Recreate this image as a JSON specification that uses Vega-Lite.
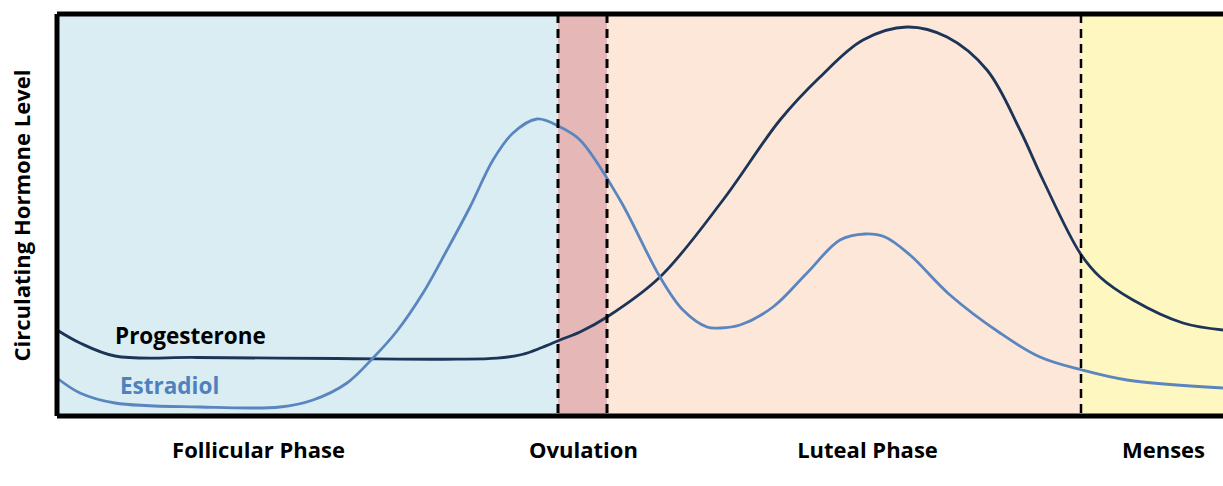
{
  "$schema": "https://vega.github.io/schema/vega-lite/v6.json",
  "autosize": {"type": "none"},
  "width": 1166,
  "height": 402,
  "padding": {"left": 57, "top": 14, "right": 0, "bottom": 70},
  "background": "white",
  "config": {"view": {"stroke": null}},
  "datasets": {
    "phases": [
      {"phase": "Follicular Phase", "start": 0, "end": 501},
      {"phase": "Ovulation", "start": 501, "end": 550},
      {"phase": "Luteal Phase", "start": 550, "end": 1024},
      {"phase": "Menses", "start": 1024, "end": 1166}
    ],
    "bounds": [{"b": 501, "w": 3}, {"b": 550, "w": 3}, {"b": 1024, "w": 2.5}],
    "hormones": [
      {"h": "Progesterone", "x": 0, "y": 86},
      {"h": "Progesterone", "x": 23, "y": 73},
      {"h": "Progesterone", "x": 58, "y": 60},
      {"h": "Progesterone", "x": 140, "y": 58.5},
      {"h": "Progesterone", "x": 280, "y": 57.5},
      {"h": "Progesterone", "x": 400, "y": 56.8},
      {"h": "Progesterone", "x": 440, "y": 57.8},
      {"h": "Progesterone", "x": 465, "y": 61.5},
      {"h": "Progesterone", "x": 485, "y": 68.5},
      {"h": "Progesterone", "x": 503, "y": 76},
      {"h": "Progesterone", "x": 523, "y": 84},
      {"h": "Progesterone", "x": 550, "y": 99},
      {"h": "Progesterone", "x": 603, "y": 139},
      {"h": "Progesterone", "x": 666, "y": 216},
      {"h": "Progesterone", "x": 723, "y": 296},
      {"h": "Progesterone", "x": 763, "y": 339},
      {"h": "Progesterone", "x": 806, "y": 376},
      {"h": "Progesterone", "x": 850, "y": 389},
      {"h": "Progesterone", "x": 890, "y": 379},
      {"h": "Progesterone", "x": 930, "y": 346},
      {"h": "Progesterone", "x": 963, "y": 286},
      {"h": "Progesterone", "x": 986, "y": 236},
      {"h": "Progesterone", "x": 1023, "y": 163},
      {"h": "Progesterone", "x": 1043, "y": 139},
      {"h": "Progesterone", "x": 1076, "y": 116},
      {"h": "Progesterone", "x": 1126, "y": 93},
      {"h": "Progesterone", "x": 1166, "y": 86},
      {"h": "Estradiol", "x": 0, "y": 38},
      {"h": "Estradiol", "x": 23, "y": 23},
      {"h": "Estradiol", "x": 58, "y": 13},
      {"h": "Estradiol", "x": 143, "y": 9},
      {"h": "Estradiol", "x": 223, "y": 9},
      {"h": "Estradiol", "x": 256, "y": 16},
      {"h": "Estradiol", "x": 290, "y": 33},
      {"h": "Estradiol", "x": 316, "y": 58},
      {"h": "Estradiol", "x": 340, "y": 85},
      {"h": "Estradiol", "x": 366, "y": 123},
      {"h": "Estradiol", "x": 390, "y": 166},
      {"h": "Estradiol", "x": 413, "y": 209},
      {"h": "Estradiol", "x": 436, "y": 256},
      {"h": "Estradiol", "x": 456, "y": 283},
      {"h": "Estradiol", "x": 480, "y": 297},
      {"h": "Estradiol", "x": 503, "y": 289},
      {"h": "Estradiol", "x": 523, "y": 276},
      {"h": "Estradiol", "x": 563, "y": 216},
      {"h": "Estradiol", "x": 603, "y": 139},
      {"h": "Estradiol", "x": 626, "y": 106},
      {"h": "Estradiol", "x": 650, "y": 89},
      {"h": "Estradiol", "x": 663, "y": 88},
      {"h": "Estradiol", "x": 683, "y": 91},
      {"h": "Estradiol", "x": 716, "y": 109},
      {"h": "Estradiol", "x": 750, "y": 143},
      {"h": "Estradiol", "x": 783, "y": 176},
      {"h": "Estradiol", "x": 808, "y": 182},
      {"h": "Estradiol", "x": 828, "y": 179},
      {"h": "Estradiol", "x": 853, "y": 161},
      {"h": "Estradiol", "x": 893, "y": 121},
      {"h": "Estradiol", "x": 943, "y": 83},
      {"h": "Estradiol", "x": 983, "y": 59},
      {"h": "Estradiol", "x": 1025, "y": 46},
      {"h": "Estradiol", "x": 1070, "y": 36},
      {"h": "Estradiol", "x": 1166, "y": 28}
    ],
    "labels": [
      {"h": "Progesterone", "x": 58, "y": 79},
      {"h": "Estradiol", "x": 63, "y": 29}
    ]
  },
  "layer": [
    {
      "data": {"name": "phases"},
      "mark": {"type": "rect"},
      "encoding": {
        "x": {
          "field": "start", "type": "quantitative",
          "scale": {"domain": [0, 1166], "nice": false, "zero": false},
          "axis": {
            "title": null, "domain": false, "ticks": false, "grid": false,
            "values": [201, 526, 810, 1106],
            "labelExpr": "datum.value == 201 ? 'Follicular Phase' : datum.value == 526 ? 'Ovulation' : datum.value == 810 ? 'Luteal Phase' : 'Menses'",
            "labelFont": "Open Sans", "labelFontWeight": "bold", "labelFontSize": 22,
            "labelColor": "black", "labelPadding": 24, "labelOverlap": false, "labelFlush": false
          }
        },
        "x2": {"field": "end"},
        "color": {
          "field": "phase", "type": "nominal", "legend": null,
          "scale": {
            "domain": ["Follicular Phase", "Ovulation", "Luteal Phase", "Menses"],
            "range": ["#daedf3", "#e5b8b7", "#fde7d8", "#fef7bf"]
          }
        }
      }
    },
    {
      "data": {"name": "hormones"},
      "mark": {"type": "line", "interpolate": "catmull-rom", "strokeWidth": 2.8},
      "encoding": {
        "x": {"field": "x", "type": "quantitative"},
        "y": {
          "field": "y", "type": "quantitative",
          "scale": {"domain": [0, 402], "nice": false},
          "axis": {
            "title": "Circulating Hormone Level", "labels": false, "ticks": false,
            "domain": false, "grid": false,
            "titleFont": "Open Sans", "titleFontWeight": "bold", "titleFontSize": 22,
            "titleColor": "black", "titlePadding": 23
          }
        },
        "stroke": {
          "field": "h", "type": "nominal", "legend": null,
          "scale": {"domain": ["Progesterone", "Estradiol"], "range": ["#1c3458", "#5a86c0"]}
        }
      }
    },
    {
      "data": {"name": "bounds"},
      "mark": {"type": "rule", "color": "black", "strokeDash": [9, 6]},
      "encoding": {
        "x": {"field": "b", "type": "quantitative"},
        "strokeWidth": {"field": "w", "type": "quantitative", "scale": null}
      }
    },
    {
      "data": {"name": "labels"},
      "mark": {"type": "text", "align": "left", "baseline": "middle", "font": "Open Sans", "fontWeight": "bold", "fontSize": 22.5},
      "encoding": {
        "x": {"field": "x", "type": "quantitative"},
        "y": {"field": "y", "type": "quantitative"},
        "text": {"field": "h"},
        "color": {
          "field": "h", "type": "nominal", "legend": null,
          "scale": {"domain": ["Progesterone", "Estradiol"], "range": ["#000000", "#4f81bd"]}
        }
      }
    },
    {
      "data": {"values": [{"v": 0}]},
      "mark": {"type": "rule", "color": "black", "strokeWidth": 5},
      "encoding": {"x": {"field": "v", "type": "quantitative"}}
    },
    {
      "data": {"values": [{"v": 0}, {"v": 402}]},
      "mark": {"type": "rule", "color": "black", "strokeWidth": 5},
      "encoding": {"y": {"field": "v", "type": "quantitative"}}
    }
  ],
  "resolve": {"scale": {"color": "independent"}}
}
